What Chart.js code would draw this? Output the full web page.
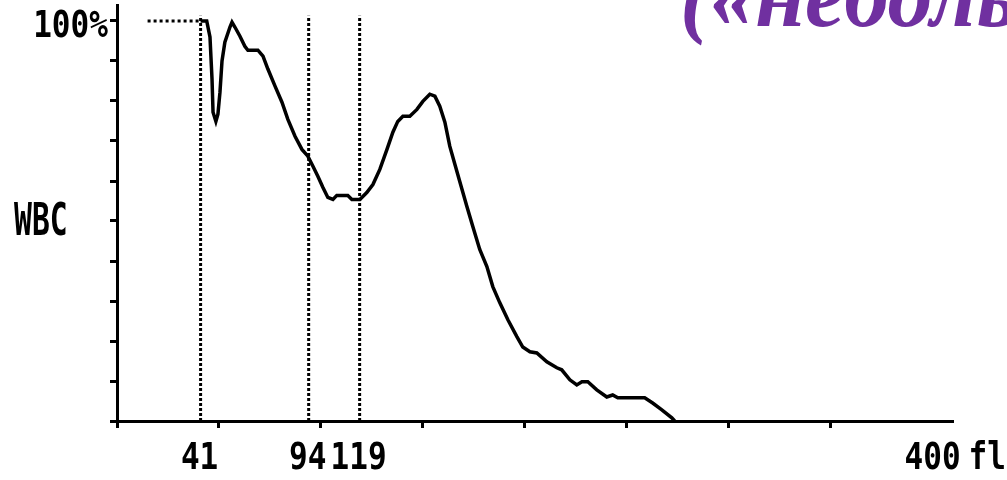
<!DOCTYPE html>
<html>
<head>
<meta charset="utf-8">
<title>WBC</title>
<script src="https://cdn.jsdelivr.net/npm/chart.js@4"></script>
<style>
  html, body { margin: 0; padding: 0; background: #fff; }
  canvas { display: block; }
</style>
</head>
<body>
<canvas id="wbc-chart" width="1007" height="480"></canvas>
<script>
// histogram trace, volume in fl and count in % of peak
var volumes = [41, 44, 45.6, 46.6, 47.1, 48.5, 49.5, 50.5, 51.5, 52.9, 55.4, 56.4, 57.8, 60.3, 62.7, 64.2,
  69.1, 71.6, 74, 77.5, 80.9, 83.8, 87.3, 90.7, 93.6, 96.1, 98.5, 101, 103.4, 105.9, 107.8, 113.2,
  115.2, 119.1, 122.5, 125.5, 128.9, 132.4, 135.3, 137.7, 140.2, 143.6, 147.1, 150, 153.4, 155.9,
  158.3, 160.8, 163.2, 165.7, 168.1, 171.6, 174.5, 177.9, 181.4, 184.3, 187.7, 191.7, 196.1, 199,
  202.5, 205.9, 210.8, 215.7, 218.1, 222.1, 225.5, 228, 230.9, 235.3, 240.2, 243.1, 245.6, 258.8,
  262.7, 267.2, 272.1, 273.5];
var counts = [100, 100, 96, 85.5, 77.2, 74.9, 76.7, 82.2, 90, 94.7, 98.5, 99.7, 98.5, 96.2, 93.7, 92.7,
  92.7, 91.2, 88, 83.7, 79.7, 75.4, 71.2, 67.9, 66.2, 63.7, 61.2, 58.4, 55.9, 55.4, 56.4, 56.4,
  55.4, 55.4, 57.1, 59.1, 62.9, 67.9, 72.2, 74.9, 76.2, 76.2, 77.9, 79.9, 81.7, 81.2,
  78.7, 74.7, 68.7, 64.2, 59.9, 53.6, 48.6, 42.9, 38.6, 33.6, 29.6, 25.3, 21.1, 18.5,
  17.3, 17, 14.8, 13.3, 12.8, 10.3, 9, 9.8, 9.8, 7.8, 6, 6.5, 5.8, 5.8,
  4.5, 2.8, 0.8, 0];

// dotted lead-in below the lower threshold
var leadIn = [15, 41];
// discriminator positions (fl)
var markers = [41, 94, 119];
var xLabelText = ["41", "94", "119"];
var xEndLabel = "400";
var unitText = "fl";
var yTopLabel = "100%";
var seriesName = "WBC";
var banner = "(«небольшой";

var INK = "#000";
var mono = "'DejaVu Sans Mono', monospace";

var datasets = [{
  data: volumes.map(function(v, i) { return { x: v, y: counts[i] }; }),
  borderColor: INK,
  borderWidth: 3.5,
  pointRadius: 0,
  tension: 0
}, {
  data: leadIn.map(function(v) { return { x: v, y: 100 }; }),
  borderColor: INK,
  borderWidth: 3,
  borderDash: [3, 3],
  pointRadius: 0
}];
markers.forEach(function(m) {
  datasets.push({
    data: [{ x: m, y: 0 }, { x: m, y: 101.3 }],
    borderColor: INK,
    borderWidth: 3,
    borderDash: [3, 2],
    pointRadius: 0
  });
});

function squeezedText(ctx, text, x, y, size, sx, align) {
  ctx.save();
  ctx.font = "bold " + size + "px " + mono;
  var w = ctx.measureText(text).width * sx;
  var left = align === "center" ? x - w / 2 : align === "right" ? x - w : x;
  ctx.translate(left, y);
  ctx.scale(sx, 1);
  ctx.textAlign = "left";
  ctx.textBaseline = "middle";
  ctx.fillStyle = INK;
  ctx.fillText(text, 0, 0);
  ctx.restore();
}

var labelsPlugin = {
  id: "labels",
  afterDraw: function(chart) {
    var ctx = chart.ctx;
    var xs = chart.scales.x, ys = chart.scales.y;
    var y100 = ys.getPixelForValue(100);
    squeezedText(ctx, yTopLabel, xs.left - 9, y100 + 6, 37, 0.84, "right");
    squeezedText(ctx, seriesName, 14, ys.getPixelForValue(50) + 2, 45, 0.66, "left");
    var ly = ys.bottom + 38;
    markers.forEach(function(m, i) {
      squeezedText(ctx, xLabelText[i], xs.getPixelForValue(m) - 1, ly, 37, 0.84, "center");
    });
    var x400 = xs.getPixelForValue(400);
    squeezedText(ctx, xEndLabel, x400, ly, 37, 0.84, "center");
    squeezedText(ctx, unitText, x400 + 36, ly, 37, 0.84, "left");

    ctx.save();
    ctx.font = "italic bold 90px 'Liberation Serif', serif";
    ctx.fillStyle = "#7030A0";
    ctx.textBaseline = "alphabetic";
    ctx.fillText(banner, 680, 26);
    ctx.restore();
  }
};

function keepEvery(step) {
  return function(scale) {
    scale.ticks = scale.ticks.filter(function(t) { return t.value % step === 0; });
  };
}

new Chart(document.getElementById("wbc-chart").getContext("2d"), {
  type: "line",
  data: { datasets: datasets },
  plugins: [labelsPlugin],
  options: {
    responsive: false,
    animation: false,
    layout: { padding: { left: 110, right: 54, top: 5, bottom: 52 } },
    plugins: { legend: { display: false }, tooltip: { enabled: false } },
    scales: {
      x: {
        type: "linear",
        min: 0,
        max: 410,
        afterBuildTicks: keepEvery(50),
        ticks: { display: false, stepSize: 50 },
        grid: { drawOnChartArea: false, drawTicks: true, tickLength: 7, tickWidth: 3, tickColor: INK },
        border: { color: INK, width: 3 }
      },
      y: {
        min: 0,
        max: 104,
        afterBuildTicks: keepEvery(10),
        ticks: { display: false, stepSize: 10 },
        grid: { drawOnChartArea: false, drawTicks: true, tickLength: 7, tickWidth: 3, tickColor: INK },
        border: { color: INK, width: 3 }
      }
    }
  }
});
</script>
</body>
</html>
